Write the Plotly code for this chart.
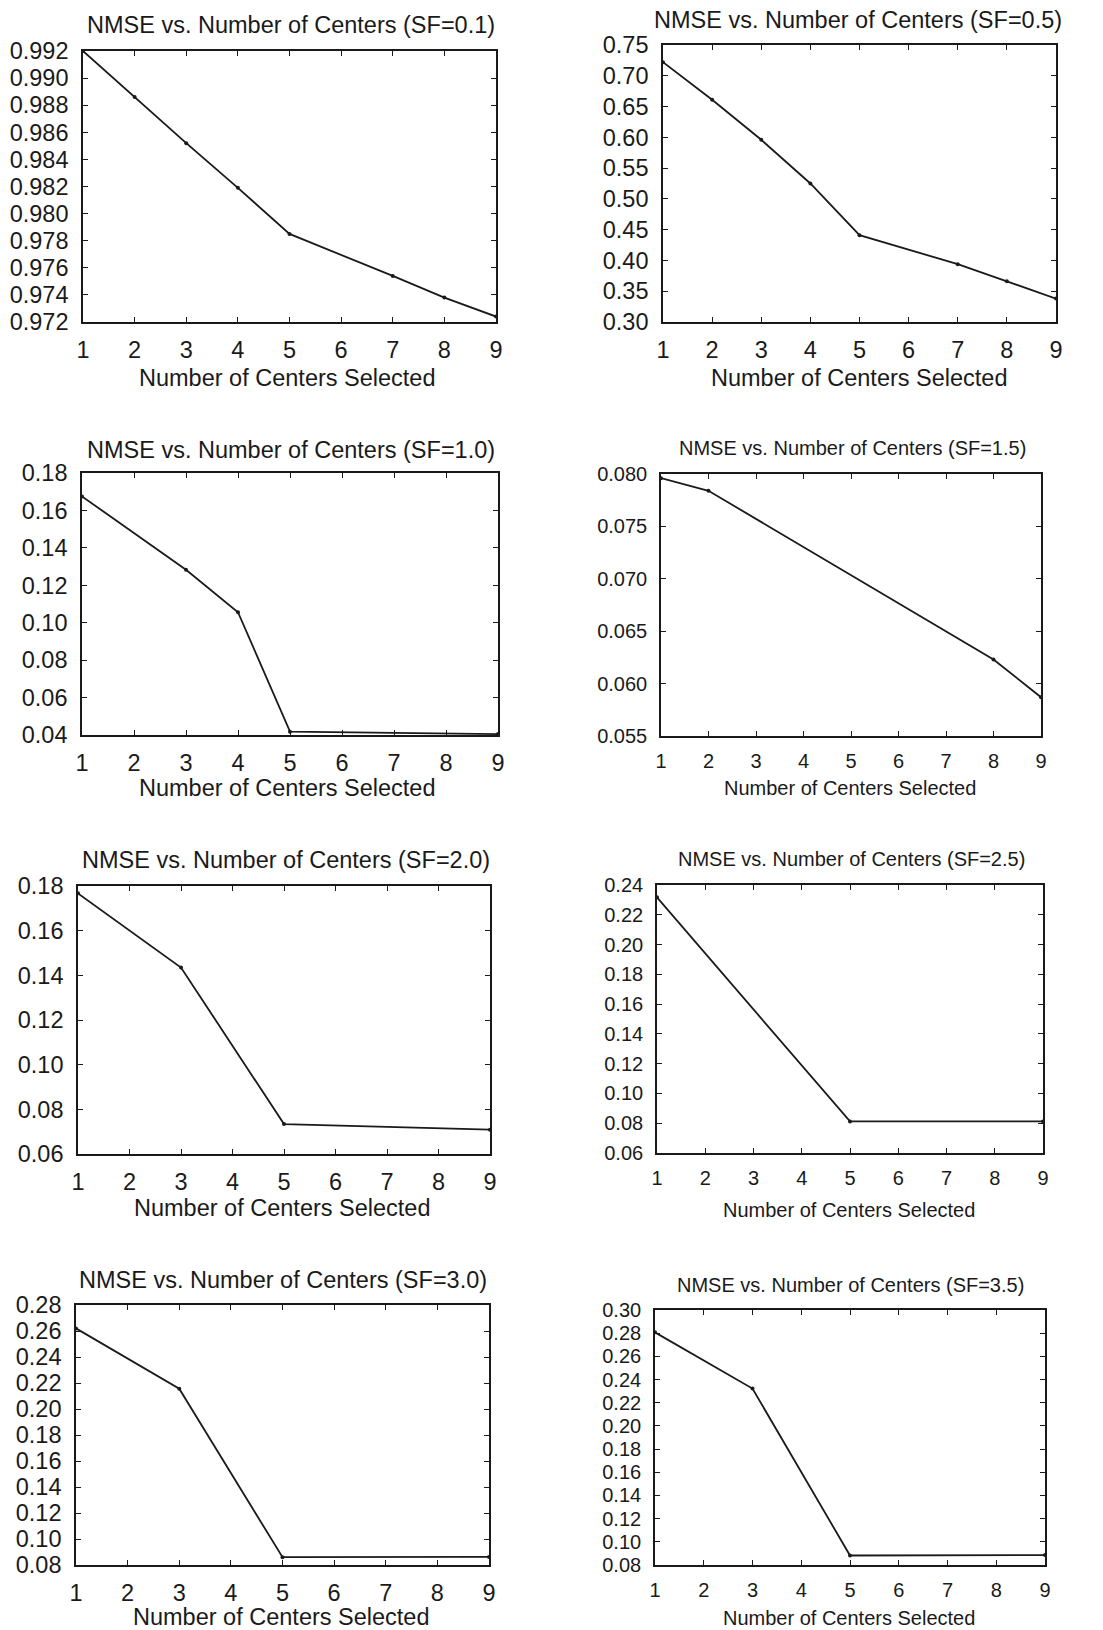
import plotly.graph_objects as go

W, H = 1103, 1630

# ---- data ----
sf_labels = ["0.1", "0.5", "1.0", "1.5", "2.0", "2.5", "3.0", "3.5"]

x_sf01 = [1, 2, 3, 4, 5, 7, 8, 9]
y_sf01 = [0.9920, 0.9886, 0.9852, 0.9819, 0.9785, 0.9754, 0.9738, 0.9724]

x_sf05 = [1, 2, 3, 4, 5, 7, 8, 9]
y_sf05 = [0.722, 0.661, 0.596, 0.525, 0.441, 0.394, 0.366, 0.338]

x_sf10 = [1, 3, 4, 5, 9]
y_sf10 = [0.1675, 0.1283, 0.1056, 0.0418, 0.0405]

x_sf15 = [1, 2, 8, 9]
y_sf15 = [0.0796, 0.0784, 0.0623, 0.0587]

x_sf20 = [1, 3, 5, 9]
y_sf20 = [0.1767, 0.1435, 0.0734, 0.0709]

x_sf25 = [1, 5, 9]
y_sf25 = [0.2317, 0.0812, 0.0812]

x_sf30 = [1, 3, 5, 9]
y_sf30 = [0.2620, 0.2156, 0.0860, 0.0862]

x_sf35 = [1, 3, 5, 9]
y_sf35 = [0.2807, 0.2322, 0.0882, 0.0886]

yticks_sf01 = [0.972, 0.974, 0.976, 0.978, 0.980, 0.982, 0.984, 0.986, 0.988, 0.990, 0.992]
yticks_sf05 = [0.30, 0.35, 0.40, 0.45, 0.50, 0.55, 0.60, 0.65, 0.70, 0.75]
yticks_sf10 = [0.04, 0.06, 0.08, 0.10, 0.12, 0.14, 0.16, 0.18]
yticks_sf15 = [0.055, 0.060, 0.065, 0.070, 0.075, 0.080]
yticks_sf20 = [0.06, 0.08, 0.10, 0.12, 0.14, 0.16, 0.18]
yticks_sf25 = [0.06, 0.08, 0.10, 0.12, 0.14, 0.16, 0.18, 0.20, 0.22, 0.24]
yticks_sf30 = [0.08, 0.10, 0.12, 0.14, 0.16, 0.18, 0.20, 0.22, 0.24, 0.26, 0.28]
yticks_sf35 = [0.08, 0.10, 0.12, 0.14, 0.16, 0.18, 0.20, 0.22, 0.24, 0.26, 0.28, 0.30]

xticks = [1, 2, 3, 4, 5, 6, 7, 8, 9]
x_title = "Number of Centers Selected"

series = [
    (x_sf01, y_sf01, yticks_sf01, ".3f"),
    (x_sf05, y_sf05, yticks_sf05, ".2f"),
    (x_sf10, y_sf10, yticks_sf10, ".2f"),
    (x_sf15, y_sf15, yticks_sf15, ".3f"),
    (x_sf20, y_sf20, yticks_sf20, ".2f"),
    (x_sf25, y_sf25, yticks_sf25, ".2f"),
    (x_sf30, y_sf30, yticks_sf30, ".2f"),
    (x_sf35, y_sf35, yticks_sf35, ".2f"),
]

# ---- layout geometry (pixels) ----
# plot boxes: (left, right, top, bottom)
boxes = [
    (83, 496, 51, 322),
    (663, 1056, 45, 322),
    (82, 498, 473, 735),
    (661, 1041, 474, 736),
    (78, 490, 886, 1154),
    (657, 1043, 885, 1153),
    (76, 489, 1305, 1565),
    (655, 1045, 1310, 1565),
]
title_pos = [(291, 25), (858, 20), (291, 450), (852, 448),
             (286, 860), (851, 859), (283, 1280), (850, 1285)]
xtitle_pos = [(287, 378), (859, 378), (287, 788), (850, 788),
              (282, 1208), (849, 1210), (281, 1617), (849, 1618)]
fsizes = [23.5, 23.5, 23.5, 20, 23.5, 20, 23.5, 20]

FONT = "Liberation Sans, Arial, Helvetica, sans-serif"
INK = "#1a1a1a"

fig = go.Figure()
layout = dict(
    width=W, height=H,
    margin=dict(l=0, r=0, t=0, b=0, autoexpand=False),
    paper_bgcolor="white", plot_bgcolor="white",
    showlegend=False,
    font=dict(family=FONT, color=INK),
)
annotations = []

for i, ((xs, ys, yt, fmt), (l, r, t, b)) in enumerate(zip(series, boxes)):
    n = "" if i == 0 else str(i + 1)
    fs = fsizes[i]
    fig.add_trace(go.Scatter(
        x=xs, y=ys, mode="lines+markers",
        line=dict(color=INK, width=1.8),
        marker=dict(color=INK, size=4),
        xaxis="x" + n, yaxis="y" + n,
    ))
    layout["xaxis" + n] = dict(
        domain=[l / W, r / W], anchor="y" + n,
        range=[1, 9], tickvals=xticks,
        ticks="inside", ticklen=5, tickcolor=INK,
        showline=True, linecolor=INK, linewidth=1.6, mirror="ticks",
        showgrid=False, zeroline=False, automargin=False,
        tickfont=dict(size=fs, family=FONT, color=INK),
        ticklabelstandoff=6,
    )
    layout["yaxis" + n] = dict(
        domain=[1 - b / H, 1 - t / H], anchor="x" + n,
        range=[yt[0], yt[-1]], tickvals=yt, tickformat=fmt,
        ticks="inside", ticklen=5, tickcolor=INK,
        showline=True, linecolor=INK, linewidth=1.6, mirror="ticks",
        showgrid=False, zeroline=False, automargin=False,
        tickfont=dict(size=fs, family=FONT, color=INK),
        ticklabelstandoff=8,
    )
    tx, ty = title_pos[i]
    annotations.append(dict(
        text=f"NMSE vs. Number of Centers (SF={sf_labels[i]})",
        x=tx / W, y=1 - ty / H, xref="paper", yref="paper",
        xanchor="center", yanchor="middle", showarrow=False,
        font=dict(size=fs, family=FONT, color=INK),
    ))
    ax, ay = xtitle_pos[i]
    annotations.append(dict(
        text=x_title,
        x=ax / W, y=1 - ay / H, xref="paper", yref="paper",
        xanchor="center", yanchor="middle", showarrow=False,
        font=dict(size=fs, family=FONT, color=INK),
    ))

layout["annotations"] = annotations
fig.update_layout(**layout)
fig.write_html("out.html")
